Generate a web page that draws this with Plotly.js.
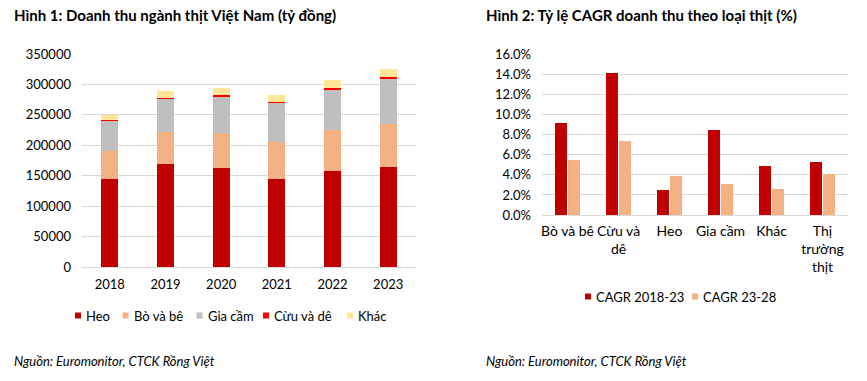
<!DOCTYPE html>
<html><head><meta charset="utf-8">
<script src="https://cdn.plot.ly/plotly-3.0.1.min.js"></script>
<style>html,body{margin:0;padding:0;background:#fff}#c{width:867px;height:381px}</style>
</head><body><div id="c"></div>
<script>
const years = ['2018','2019','2020','2021','2022','2023'];
const heo = [143900, 168500, 161900, 143900, 157000, 163600];
const boVaBe = [45900, 54150, 57500, 60700, 68400, 72200];
const giaCam = [49800, 54150, 60700, 65100, 66200, 72700];
const cuuVaDe = [1650, 1650, 3300, 1600, 3300, 3300];
const khac = [9300, 11450, 11500, 12100, 13100, 14200];
const stackNames = ['Heo', 'Bò và bê', 'Gia cầm', 'Cừu và dê', 'Khác'];
const stackColors = ['#C00000', '#F4B183', '#BFBFBF', '#FF0000', '#FFE699'];

const cagrCats = ['Bò và bê', 'Cừu và<br>dê', 'Heo', 'Gia cầm', 'Khác', 'Thị<br>trường<br>thịt'];
const cagr1823 = [0.0918, 0.1417, 0.025, 0.0848, 0.0489, 0.0529];
const cagr2328 = [0.0549, 0.0739, 0.0393, 0.0309, 0.026, 0.0409];
const cagrNames = ['CAGR 2018-23', 'CAGR 23-28'];
const cagrColors = ['#C00000', '#F4B183'];

const FONT = 'Lato, "Open Sans", sans-serif';
const W = 867, H = 381;
const px = x => x / W, py = y => 1 - y / H;

const stackVals = [heo, boVaBe, giaCam, cuuVaDe, khac];
const traces = stackVals.map((v, i) => ({
  type: 'bar', name: stackNames[i], x: years, y: v, marker: {color: stackColors[i]},
  xaxis: 'x', yaxis: 'y', width: 0.31, showlegend: false
}));
[cagr1823, cagr2328].forEach((v, i) => traces.push({
  type: 'bar', name: cagrNames[i], x: cagrCats, y: v, marker: {color: cagrColors[i]},
  xaxis: 'x2', yaxis: 'y2', offsetgroup: 'g' + i, showlegend: false
}));

const axFont = {family: FONT, size: 13, color: '#000'};
const ann = [
  {text: '<b>Hình 1: Doanh thu ngành thịt Việt Nam (tỷ đồng)</b>', x: 12, y: 15, size: 15},
  {text: '<b>Hình 2: Tỷ lệ CAGR doanh thu theo loại thịt (%)</b>', x: 484, y: 15, size: 15},
  {text: '<i>Nguồn: Euromonitor, CTCK Rồng Việt</i>', x: 12, y: 361, size: 13},
  {text: '<i>Nguồn: Euromonitor, CTCK Rồng Việt</i>', x: 484, y: 361, size: 13}
].map(a => ({text: a.text, xref: 'paper', yref: 'paper', x: px(a.x), y: py(a.y),
  xanchor: 'left', yanchor: 'middle', showarrow: false,
  font: {family: FONT, size: a.size, color: '#000'}}));

const shapes = [];
function legendItem(name, color, sx, cy) {
  shapes.push({type: 'rect', xref: 'paper', yref: 'paper', x0: px(sx), x1: px(sx + 6),
    y0: py(cy + 3), y1: py(cy - 3), fillcolor: color, line: {width: 0}});
  ann.push({text: name, xref: 'paper', yref: 'paper', x: px(sx + 9), y: py(cy),
    xanchor: 'left', yanchor: 'middle', showarrow: false,
    font: {family: FONT, size: 13, color: '#000'}});
}
const leg1X = [75, 122.5, 196.5, 263, 347];
stackNames.forEach((n, i) => legendItem(n, stackColors[i], leg1X[i], 315.5));
const leg2X = [585, 692];
cagrNames.forEach((n, i) => legendItem(n, cagrColors[i], leg2X[i], 296.5));

const layout = {
  width: W, height: H, margin: {l: 0, r: 0, t: 0, b: 0},
  paper_bgcolor: '#fff', plot_bgcolor: '#fff',
  barmode: 'stack', bargap: 0.49, bargroupgap: 0.12, showlegend: false,
  font: {family: FONT, size: 13, color: '#000'},
  xaxis: {domain: [px(82), px(416)], anchor: 'y', type: 'category', tickfont: axFont, showgrid: false,
    showline: false, ticks: '', ticklabelstandoff: 8},
  yaxis: {domain: [py(267), py(54)], anchor: 'x', range: [0, 350000], dtick: 50000,
    tickfont: axFont, gridcolor: '#D9D9D9', gridwidth: 1, zeroline: true, zerolinecolor: '#D9D9D9',
    showline: false, ticks: '', ticklabelstandoff: 10, tickformat: 'd'},
  xaxis2: {domain: [px(542), px(848)], anchor: 'y2', type: 'category', tickfont: {family: FONT, size: 14, color: '#000'},
    showgrid: false, showline: false, ticks: '', ticklabelstandoff: 6},
  yaxis2: {domain: [py(215), py(54.5)], anchor: 'x2', range: [0, 0.16], dtick: 0.02,
    tickformat: '.1%', tickfont: axFont, gridcolor: '#D9D9D9', zeroline: true, zerolinecolor: '#D9D9D9',
    showline: false, ticks: '', ticklabelstandoff: 10},
  annotations: ann,
  shapes: shapes
};
Plotly.newPlot('c', traces, layout, {displayModeBar: false, staticPlot: true});
</script></body></html>
